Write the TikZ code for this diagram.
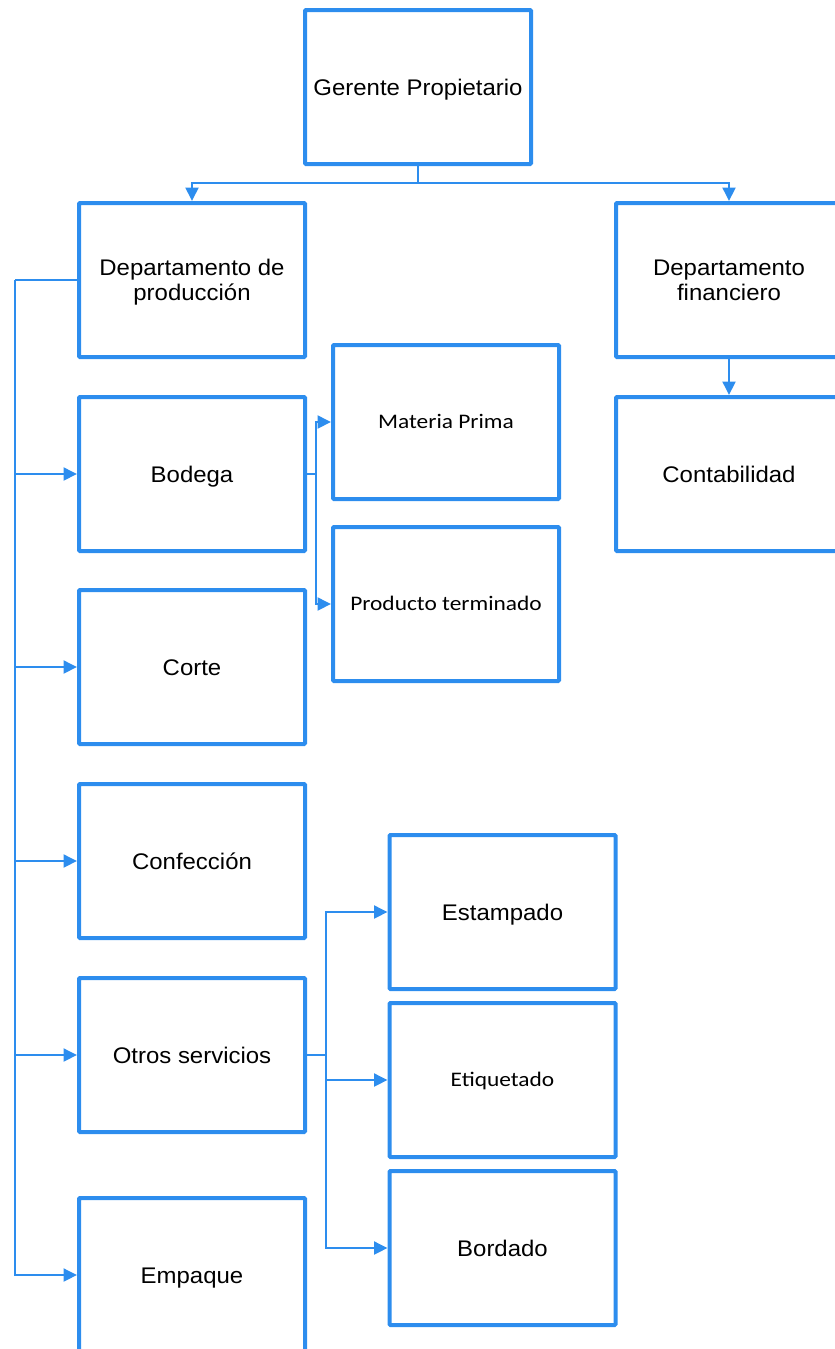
\documentclass[tikz,border=0pt]{standalone}
\usepackage{fontspec}
\setmainfont{Liberation Sans}[FakeStretch=1.06]
\newfontfamily\calibrifont{Carlito}[FakeStretch=1.13]
\usetikzlibrary{arrows.meta}
\definecolor{orgblue}{RGB}{45,141,238}
\begin{document}
\begin{tikzpicture}[x=1pt,y=-1pt,
  box/.style={draw=orgblue, line width=4pt, rounded corners=1pt, minimum width=226pt, minimum height=154pt, inner sep=0pt, align=center, font=\fontsize{22.6}{25}\selectfont},
  one/.style={text height=16pt, text depth=0pt},
  cbox/.style={box, font=\calibrifont\fontsize{20.7}{25}\selectfont, text height=13.3pt, text depth=0pt},
  conn/.style={draw=orgblue, line width=2pt},
  arr/.style={conn, -{Triangle[length=13.5pt,width=13pt]}}]
\useasboundingbox (0,0) rectangle (835,1349);
\node[box,one] (g) at (418,87) {Gerente Propietario};
\node[box] (dp) at (192,280) {\rule{0pt}{21pt}Departamento de\\producción};
\node[box] (df) at (729,280) {Departamento\\financiero};
\node[box,one] (ct) at (729,474) {Contabilidad};
\node[box,one] (bo) at (192,474) {Bodega};
\node[box,one] (co) at (192,667) {Corte};
\node[box,one] (cf) at (192,861) {Confección};
\node[box,one] (os) at (192,1055) {Otros servicios};
\node[box,one] (em) at (192,1275) {Empaque};
\node[cbox] (mp) at (446,422) {Materia Prima};
\node[cbox] (pt) at (446,604) {Producto terminado};
\node[box,one] (es) at (502.5,912) {Estampado};
\node[cbox] (et) at (502.5,1080) {Etiquetado};
\node[box,one] (bd) at (502.5,1248) {Bordado};
% top split
\coordinate (gj) at (418,183);
\draw[conn] (g.south) -- (gj);
\draw[arr] (gj) -| (dp.north);
\draw[arr] (gj) -| (df.north);
\draw[arr] (df.south) -- (ct.north);
% left spine
\coordinate (sp) at (15,280);
\draw[conn] (dp.west) -- (sp);
\foreach \n in {bo,co,cf,os,em} \draw[arr] (sp) |- (\n.west);
% bodega
\coordinate (bj) at (316,474);
\draw[conn] (bo.east) -- (bj);
\draw[arr] (bj) |- (mp.west);
\draw[arr] (bj) |- (pt.west);
% otros servicios
\coordinate (oj) at (326,1055);
\draw[conn] (os.east) -- (oj);
\draw[arr] (oj) |- (es.west);
\draw[arr] (oj) |- (et.west);
\draw[arr] (oj) |- (bd.west);
\end{tikzpicture}
\end{document}
